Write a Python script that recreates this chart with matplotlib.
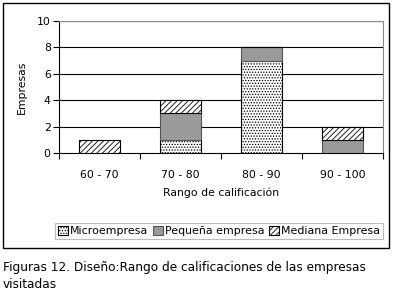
import matplotlib
matplotlib.use("Agg")
import matplotlib.pyplot as plt
import numpy as np
from matplotlib.patches import Rectangle

categories = ["60 - 70", "70 - 80", "80 - 90", "90 - 100"]
micro = [0, 1, 7, 0]
pequena = [0, 2, 1, 1]
mediana = [1, 1, 0, 1]
series_names = ["Microempresa", "Pequeña empresa", "Mediana Empresa"]
yticks = [0, 2, 4, 6, 8, 10]

plt.rcParams['font.family'] = ['DejaVu Sans']
plt.rcParams['hatch.linewidth'] = 0.6

fig = plt.figure(figsize=(3.93, 2.96), dpi=100)
ax = fig.add_axes([59/393, 1-153/296, 324/393, 132/296])

x = np.arange(len(categories))
w = 0.5
b1 = ax.bar(x, micro, w, color="white", edgecolor="black", hatch="......", linewidth=0.8,
            label=series_names[0], zorder=3)
b2 = ax.bar(x, pequena, w, bottom=micro, color="#9a9a9a", edgecolor="#555555", linewidth=0.8,
            label=series_names[1], zorder=3)
bot = np.array(micro) + np.array(pequena)
b3 = ax.bar(x, mediana, w, bottom=bot, color="white", edgecolor="black", hatch="//////",
            linewidth=0.8, label=series_names[2], zorder=3)

ax.set_xlim(-0.5, len(categories) - 0.5)
ax.set_ylim(0, 10)
ax.set_yticks(yticks)
ax.set_xticks(x)
ax.set_xticklabels(categories, fontsize=7.8)
ax.tick_params(axis='x', length=0, pad=12)
ax.set_xticks(np.arange(-0.5, len(categories)), minor=True)
ax.tick_params(axis='x', which='minor', length=4, direction='out', width=0.8)
ax.tick_params(axis='y', labelsize=7.8, length=4, width=0.8, pad=2)
for yv in yticks[1:]:
    ax.axhline(yv, color="black", linewidth=0.8, zorder=1)
for s in ["top", "right"]:
    ax.spines[s].set_color("#888888")
    ax.spines[s].set_linewidth(0.8)
ax.spines["left"].set_linewidth(0.8)
ax.spines["bottom"].set_linewidth(0.8)

ax.set_ylabel("Empresas", fontsize=7.8, labelpad=7)
ax.set_xlabel("Rango de calificación", fontsize=7.8, labelpad=6)

leg = fig.legend(handles=[b1, b2, b3], labels=series_names, loc="center",
                 bbox_to_anchor=(219/393, 1-231/296), ncol=3, fontsize=7.9,
                 frameon=True, fancybox=False, edgecolor="#aaaaaa",
                 handlelength=0.9, handleheight=0.9, handletextpad=0.2,
                 columnspacing=0.4, borderpad=0.3, borderaxespad=0)
leg.get_frame().set_linewidth(0.8)

fig.patches.append(Rectangle((3/393, 1-248/296), 386/393, 245/296,
                             transform=fig.transFigure, fill=False,
                             edgecolor="black", linewidth=1.0))

fig.text(3/393, 1-268/296, "Figuras 12. Diseño:Rango de calificaciones de las empresas",
         fontsize=8.7, va="center", ha="left")
fig.text(3/393, 1-284/296, "visitadas", fontsize=8.7, va="center", ha="left")

fig.savefig("out.png", dpi=100)
